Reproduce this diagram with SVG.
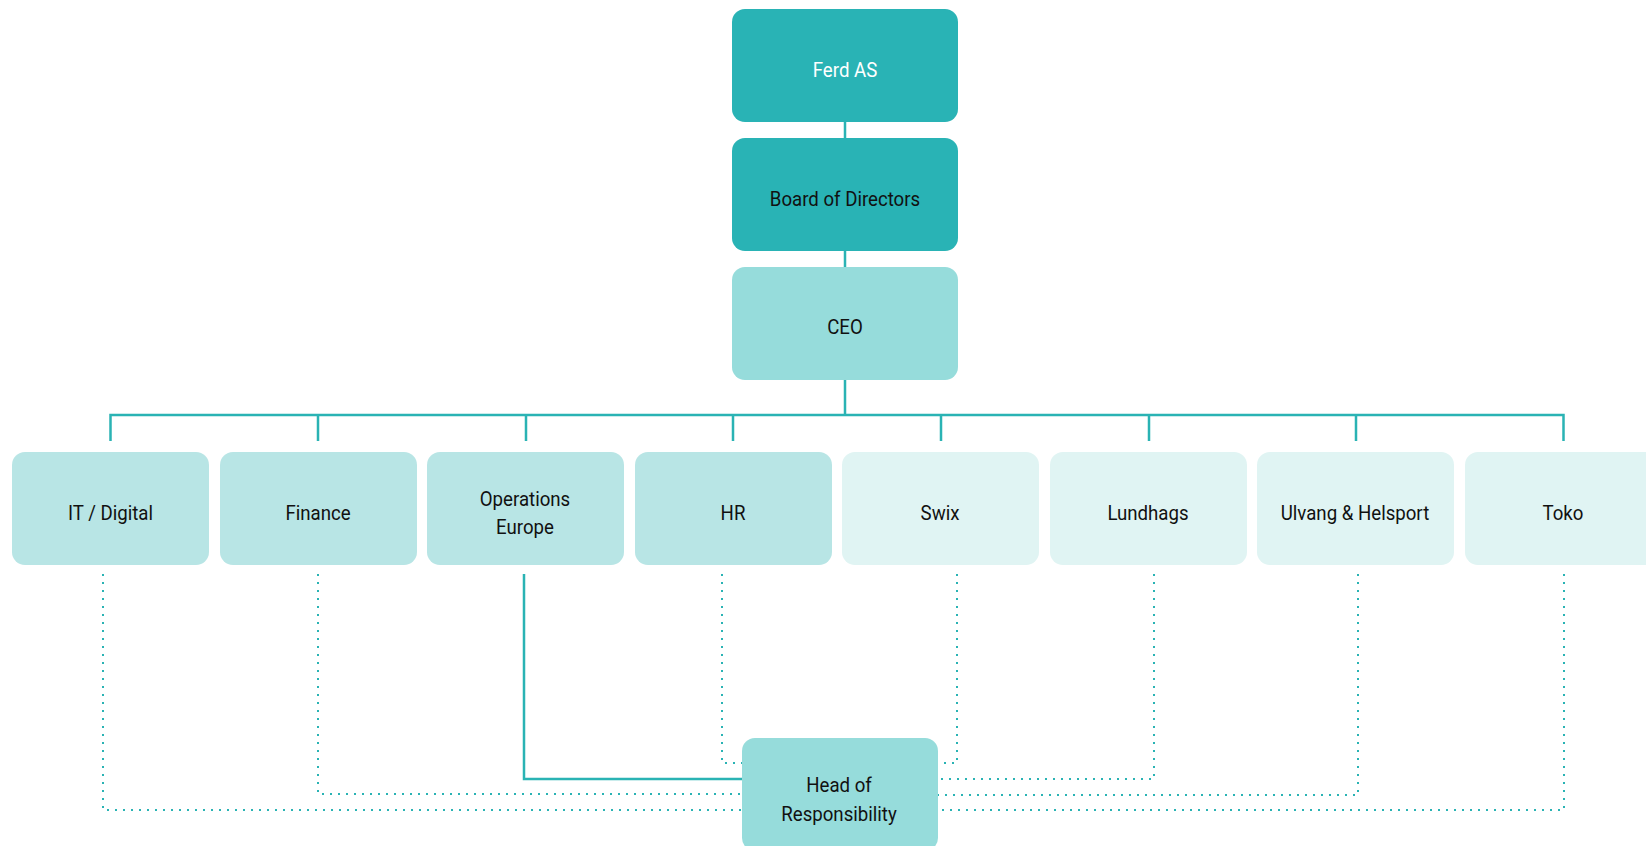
<svg xmlns="http://www.w3.org/2000/svg" width="1646" height="846" viewBox="0 0 1646 846">
<style>
.dark{fill:#29b3b5}
.mid{fill:#96dcdb}
.lt{fill:#b8e5e5}
.xlt{fill:#e0f4f3}
text{font-family:Roboto,"Liberation Sans",sans-serif;font-size:20.5px;fill:#111;text-anchor:middle;transform-box:fill-box;transform-origin:center;transform:scaleX(0.91)}
.w{fill:#ffffff}
.solid{fill:none;stroke:#2ab3b4;stroke-width:2.5}
.dot{fill:none;stroke:#2ab3b4;stroke-width:2;stroke-dasharray:2 6}
</style>
<rect width="1646" height="846" fill="#ffffff"/>
<g id="connectors">
<path class="solid" d="M845 122V138M845 251V267M845 380V415"/>
<path class="solid" d="M110.5 441V415H1563.5V441M318 415V441M526 415V441M733 415V441M941 415V441M1149 415V441M1356 415V441"/>
<path class="dot" d="M103 574V810H742"/>
<path class="dot" d="M318 574V794H742"/>
<path class="solid" d="M524 574V779H742"/>
<path class="dot" d="M722 574V763H742"/>
<path class="dot" d="M957 574V763H938"/>
<path class="dot" d="M1154 574V779H938"/>
<path class="dot" d="M1358 574V795H938"/>
<path class="dot" d="M1564 574V810H938"/>
</g>
<g id="ferd"><rect class="dark" x="732" y="9" width="226" height="113" rx="13"/><text class="w" x="845" y="77">Ferd AS</text></g>
<g id="board"><rect class="dark" x="732" y="138" width="226" height="113" rx="13"/><text x="845" y="206">Board of Directors</text></g>
<g id="ceo"><rect class="mid" x="732" y="267" width="226" height="113" rx="13"/><text x="845" y="334">CEO</text></g>
<g id="it"><rect class="lt" x="12" y="452" width="197" height="113" rx="13"/><text x="110.5" y="520">IT / Digital</text></g>
<g id="finance"><rect class="lt" x="220" y="452" width="197" height="113" rx="13"/><text x="318" y="520">Finance</text></g>
<g id="operations"><rect class="lt" x="427" y="452" width="197" height="113" rx="13"/><text x="525" y="506">Operations</text><text x="525" y="534">Europe</text></g>
<g id="hr"><rect class="lt" x="635" y="452" width="197" height="113" rx="13"/><text x="733" y="520">HR</text></g>
<g id="swix"><rect class="xlt" x="842" y="452" width="197" height="113" rx="13"/><text x="940" y="520">Swix</text></g>
<g id="lundhags"><rect class="xlt" x="1050" y="452" width="197" height="113" rx="13"/><text x="1148" y="520">Lundhags</text></g>
<g id="ulvang"><rect class="xlt" x="1257" y="452" width="197" height="113" rx="13"/><text x="1355" y="520">Ulvang &amp; Helsport</text></g>
<g id="toko"><rect class="xlt" x="1465" y="452" width="197" height="113" rx="13"/><text x="1563" y="520">Toko</text></g>
<g id="head"><rect class="mid" x="742" y="738" width="196" height="113" rx="13"/><text x="839" y="792">Head of</text><text x="839" y="821">Responsibility</text></g>
</svg>
